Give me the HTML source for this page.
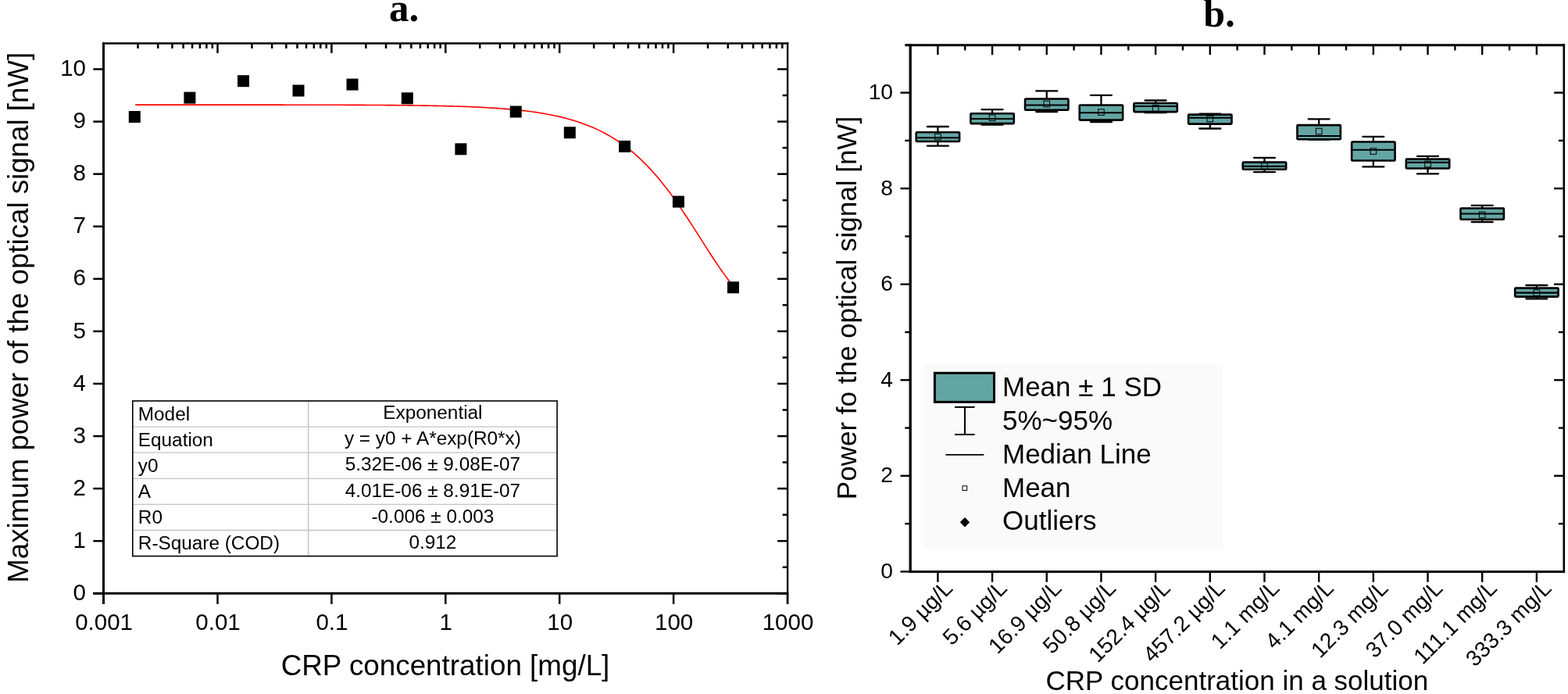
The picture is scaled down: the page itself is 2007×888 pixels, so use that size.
<!DOCTYPE html>
<html><head><meta charset="utf-8"><title>CRP figure</title>
<style>
html,body{margin:0;padding:0;background:#fff;}
svg{display:block;}
</style></head>
<body>
<svg width="2007" height="888" viewBox="0 0 2007 888" font-family='"Liberation Sans", Arial, sans-serif' fill="#000">
<g id="plotA">
<line x1="132.5" y1="54.3" x2="132.5" y2="773" stroke="#000" stroke-width="3"/>
<line x1="119.3" y1="759.3" x2="1009.3000000000001" y2="759.3" stroke="#000" stroke-width="3"/>
<line x1="131.0" y1="55.5" x2="1009.3000000000001" y2="55.5" stroke="#000" stroke-width="2.5"/>
<line x1="1008.1" y1="54.3" x2="1008.1" y2="773" stroke="#000" stroke-width="2.4"/>
<line x1="119.3" y1="759.30" x2="132.5" y2="759.30" stroke="#000" stroke-width="2.5"/>
<line x1="995.1" y1="759.30" x2="1008.1" y2="759.30" stroke="#000" stroke-width="2.5"/>
<line x1="1001.6" y1="725.76" x2="1008.1" y2="725.76" stroke="#000" stroke-width="2.5"/>
<text x="110" y="767.90" text-anchor="end" font-size="29.5">0</text>
<line x1="119.3" y1="692.22" x2="132.5" y2="692.22" stroke="#000" stroke-width="2.5"/>
<line x1="995.1" y1="692.22" x2="1008.1" y2="692.22" stroke="#000" stroke-width="2.5"/>
<line x1="1001.6" y1="658.68" x2="1008.1" y2="658.68" stroke="#000" stroke-width="2.5"/>
<text x="110" y="700.82" text-anchor="end" font-size="29.5">1</text>
<line x1="119.3" y1="625.14" x2="132.5" y2="625.14" stroke="#000" stroke-width="2.5"/>
<line x1="995.1" y1="625.14" x2="1008.1" y2="625.14" stroke="#000" stroke-width="2.5"/>
<line x1="1001.6" y1="591.60" x2="1008.1" y2="591.60" stroke="#000" stroke-width="2.5"/>
<text x="110" y="633.74" text-anchor="end" font-size="29.5">2</text>
<line x1="119.3" y1="558.06" x2="132.5" y2="558.06" stroke="#000" stroke-width="2.5"/>
<line x1="995.1" y1="558.06" x2="1008.1" y2="558.06" stroke="#000" stroke-width="2.5"/>
<line x1="1001.6" y1="524.52" x2="1008.1" y2="524.52" stroke="#000" stroke-width="2.5"/>
<text x="110" y="566.66" text-anchor="end" font-size="29.5">3</text>
<line x1="119.3" y1="490.98" x2="132.5" y2="490.98" stroke="#000" stroke-width="2.5"/>
<line x1="995.1" y1="490.98" x2="1008.1" y2="490.98" stroke="#000" stroke-width="2.5"/>
<line x1="1001.6" y1="457.44" x2="1008.1" y2="457.44" stroke="#000" stroke-width="2.5"/>
<text x="110" y="499.58" text-anchor="end" font-size="29.5">4</text>
<line x1="119.3" y1="423.90" x2="132.5" y2="423.90" stroke="#000" stroke-width="2.5"/>
<line x1="995.1" y1="423.90" x2="1008.1" y2="423.90" stroke="#000" stroke-width="2.5"/>
<line x1="1001.6" y1="390.36" x2="1008.1" y2="390.36" stroke="#000" stroke-width="2.5"/>
<text x="110" y="432.50" text-anchor="end" font-size="29.5">5</text>
<line x1="119.3" y1="356.82" x2="132.5" y2="356.82" stroke="#000" stroke-width="2.5"/>
<line x1="995.1" y1="356.82" x2="1008.1" y2="356.82" stroke="#000" stroke-width="2.5"/>
<line x1="1001.6" y1="323.28" x2="1008.1" y2="323.28" stroke="#000" stroke-width="2.5"/>
<text x="110" y="365.42" text-anchor="end" font-size="29.5">6</text>
<line x1="119.3" y1="289.74" x2="132.5" y2="289.74" stroke="#000" stroke-width="2.5"/>
<line x1="995.1" y1="289.74" x2="1008.1" y2="289.74" stroke="#000" stroke-width="2.5"/>
<line x1="1001.6" y1="256.20" x2="1008.1" y2="256.20" stroke="#000" stroke-width="2.5"/>
<text x="110" y="298.34" text-anchor="end" font-size="29.5">7</text>
<line x1="119.3" y1="222.66" x2="132.5" y2="222.66" stroke="#000" stroke-width="2.5"/>
<line x1="995.1" y1="222.66" x2="1008.1" y2="222.66" stroke="#000" stroke-width="2.5"/>
<line x1="1001.6" y1="189.12" x2="1008.1" y2="189.12" stroke="#000" stroke-width="2.5"/>
<text x="110" y="231.26" text-anchor="end" font-size="29.5">8</text>
<line x1="119.3" y1="155.58" x2="132.5" y2="155.58" stroke="#000" stroke-width="2.5"/>
<line x1="995.1" y1="155.58" x2="1008.1" y2="155.58" stroke="#000" stroke-width="2.5"/>
<line x1="1001.6" y1="122.04" x2="1008.1" y2="122.04" stroke="#000" stroke-width="2.5"/>
<text x="110" y="164.18" text-anchor="end" font-size="29.5">9</text>
<line x1="119.3" y1="88.50" x2="132.5" y2="88.50" stroke="#000" stroke-width="2.5"/>
<line x1="995.1" y1="88.50" x2="1008.1" y2="88.50" stroke="#000" stroke-width="2.5"/>
<text x="110" y="97.10" text-anchor="end" font-size="29.5">10</text>
<line x1="132.60" y1="759.3" x2="132.60" y2="773" stroke="#000" stroke-width="2.5"/>
<text x="133.10" y="805.8" text-anchor="middle" font-size="29.5">0.001</text>
<line x1="176.52" y1="55.5" x2="176.52" y2="62.0" stroke="#000" stroke-width="2.5"/>
<line x1="202.21" y1="55.5" x2="202.21" y2="62.0" stroke="#000" stroke-width="2.5"/>
<line x1="220.44" y1="55.5" x2="220.44" y2="62.0" stroke="#000" stroke-width="2.5"/>
<line x1="234.58" y1="55.5" x2="234.58" y2="62.0" stroke="#000" stroke-width="2.5"/>
<line x1="246.13" y1="55.5" x2="246.13" y2="62.0" stroke="#000" stroke-width="2.5"/>
<line x1="255.90" y1="55.5" x2="255.90" y2="62.0" stroke="#000" stroke-width="2.5"/>
<line x1="264.36" y1="55.5" x2="264.36" y2="62.0" stroke="#000" stroke-width="2.5"/>
<line x1="271.82" y1="55.5" x2="271.82" y2="62.0" stroke="#000" stroke-width="2.5"/>
<line x1="278.50" y1="759.3" x2="278.50" y2="773" stroke="#000" stroke-width="2.5"/>
<line x1="278.50" y1="55.5" x2="278.50" y2="68.0" stroke="#000" stroke-width="2.5"/>
<text x="279.00" y="805.8" text-anchor="middle" font-size="29.5">0.01</text>
<line x1="322.42" y1="55.5" x2="322.42" y2="62.0" stroke="#000" stroke-width="2.5"/>
<line x1="348.11" y1="55.5" x2="348.11" y2="62.0" stroke="#000" stroke-width="2.5"/>
<line x1="366.34" y1="55.5" x2="366.34" y2="62.0" stroke="#000" stroke-width="2.5"/>
<line x1="380.48" y1="55.5" x2="380.48" y2="62.0" stroke="#000" stroke-width="2.5"/>
<line x1="392.03" y1="55.5" x2="392.03" y2="62.0" stroke="#000" stroke-width="2.5"/>
<line x1="401.80" y1="55.5" x2="401.80" y2="62.0" stroke="#000" stroke-width="2.5"/>
<line x1="410.26" y1="55.5" x2="410.26" y2="62.0" stroke="#000" stroke-width="2.5"/>
<line x1="417.72" y1="55.5" x2="417.72" y2="62.0" stroke="#000" stroke-width="2.5"/>
<line x1="424.40" y1="759.3" x2="424.40" y2="773" stroke="#000" stroke-width="2.5"/>
<line x1="424.40" y1="55.5" x2="424.40" y2="68.0" stroke="#000" stroke-width="2.5"/>
<text x="424.90" y="805.8" text-anchor="middle" font-size="29.5">0.1</text>
<line x1="468.32" y1="55.5" x2="468.32" y2="62.0" stroke="#000" stroke-width="2.5"/>
<line x1="494.01" y1="55.5" x2="494.01" y2="62.0" stroke="#000" stroke-width="2.5"/>
<line x1="512.24" y1="55.5" x2="512.24" y2="62.0" stroke="#000" stroke-width="2.5"/>
<line x1="526.38" y1="55.5" x2="526.38" y2="62.0" stroke="#000" stroke-width="2.5"/>
<line x1="537.93" y1="55.5" x2="537.93" y2="62.0" stroke="#000" stroke-width="2.5"/>
<line x1="547.70" y1="55.5" x2="547.70" y2="62.0" stroke="#000" stroke-width="2.5"/>
<line x1="556.16" y1="55.5" x2="556.16" y2="62.0" stroke="#000" stroke-width="2.5"/>
<line x1="563.62" y1="55.5" x2="563.62" y2="62.0" stroke="#000" stroke-width="2.5"/>
<line x1="570.30" y1="759.3" x2="570.30" y2="773" stroke="#000" stroke-width="2.5"/>
<line x1="570.30" y1="55.5" x2="570.30" y2="68.0" stroke="#000" stroke-width="2.5"/>
<text x="570.80" y="805.8" text-anchor="middle" font-size="29.5">1</text>
<line x1="614.22" y1="55.5" x2="614.22" y2="62.0" stroke="#000" stroke-width="2.5"/>
<line x1="639.91" y1="55.5" x2="639.91" y2="62.0" stroke="#000" stroke-width="2.5"/>
<line x1="658.14" y1="55.5" x2="658.14" y2="62.0" stroke="#000" stroke-width="2.5"/>
<line x1="672.28" y1="55.5" x2="672.28" y2="62.0" stroke="#000" stroke-width="2.5"/>
<line x1="683.83" y1="55.5" x2="683.83" y2="62.0" stroke="#000" stroke-width="2.5"/>
<line x1="693.60" y1="55.5" x2="693.60" y2="62.0" stroke="#000" stroke-width="2.5"/>
<line x1="702.06" y1="55.5" x2="702.06" y2="62.0" stroke="#000" stroke-width="2.5"/>
<line x1="709.52" y1="55.5" x2="709.52" y2="62.0" stroke="#000" stroke-width="2.5"/>
<line x1="716.20" y1="759.3" x2="716.20" y2="773" stroke="#000" stroke-width="2.5"/>
<line x1="716.20" y1="55.5" x2="716.20" y2="68.0" stroke="#000" stroke-width="2.5"/>
<text x="716.70" y="805.8" text-anchor="middle" font-size="29.5">10</text>
<line x1="760.12" y1="55.5" x2="760.12" y2="62.0" stroke="#000" stroke-width="2.5"/>
<line x1="785.81" y1="55.5" x2="785.81" y2="62.0" stroke="#000" stroke-width="2.5"/>
<line x1="804.04" y1="55.5" x2="804.04" y2="62.0" stroke="#000" stroke-width="2.5"/>
<line x1="818.18" y1="55.5" x2="818.18" y2="62.0" stroke="#000" stroke-width="2.5"/>
<line x1="829.73" y1="55.5" x2="829.73" y2="62.0" stroke="#000" stroke-width="2.5"/>
<line x1="839.50" y1="55.5" x2="839.50" y2="62.0" stroke="#000" stroke-width="2.5"/>
<line x1="847.96" y1="55.5" x2="847.96" y2="62.0" stroke="#000" stroke-width="2.5"/>
<line x1="855.42" y1="55.5" x2="855.42" y2="62.0" stroke="#000" stroke-width="2.5"/>
<line x1="862.10" y1="759.3" x2="862.10" y2="773" stroke="#000" stroke-width="2.5"/>
<line x1="862.10" y1="55.5" x2="862.10" y2="68.0" stroke="#000" stroke-width="2.5"/>
<text x="862.60" y="805.8" text-anchor="middle" font-size="29.5">100</text>
<line x1="906.02" y1="55.5" x2="906.02" y2="62.0" stroke="#000" stroke-width="2.5"/>
<line x1="931.71" y1="55.5" x2="931.71" y2="62.0" stroke="#000" stroke-width="2.5"/>
<line x1="949.94" y1="55.5" x2="949.94" y2="62.0" stroke="#000" stroke-width="2.5"/>
<line x1="964.08" y1="55.5" x2="964.08" y2="62.0" stroke="#000" stroke-width="2.5"/>
<line x1="975.63" y1="55.5" x2="975.63" y2="62.0" stroke="#000" stroke-width="2.5"/>
<line x1="985.40" y1="55.5" x2="985.40" y2="62.0" stroke="#000" stroke-width="2.5"/>
<line x1="993.86" y1="55.5" x2="993.86" y2="62.0" stroke="#000" stroke-width="2.5"/>
<line x1="1001.32" y1="55.5" x2="1001.32" y2="62.0" stroke="#000" stroke-width="2.5"/>
<line x1="1008.00" y1="759.3" x2="1008.00" y2="773" stroke="#000" stroke-width="2.5"/>
<text x="1008.50" y="805.8" text-anchor="middle" font-size="29.5">1000</text>
<text x="570" y="863.5" text-anchor="middle" font-size="36.8">CRP concentration [mg/L]</text>
<text transform="translate(36.3,406.3) rotate(-90)" text-anchor="middle" font-size="36.7">Maximum power of the optical signal [nW]</text>
<polyline points="173.27,134.12 175.82,134.12 178.37,134.12 180.92,134.12 183.47,134.12 186.02,134.12 188.57,134.12 191.12,134.12 193.67,134.12 196.22,134.12 198.77,134.12 201.32,134.12 203.87,134.12 206.42,134.12 208.98,134.12 211.53,134.12 214.08,134.12 216.63,134.12 219.18,134.12 221.73,134.12 224.28,134.12 226.83,134.12 229.38,134.12 231.93,134.12 234.48,134.12 237.03,134.12 239.58,134.12 242.13,134.12 244.68,134.12 247.23,134.12 249.78,134.12 252.33,134.12 254.88,134.13 257.43,134.13 259.98,134.13 262.53,134.13 265.08,134.13 267.63,134.13 270.18,134.13 272.73,134.13 275.29,134.13 277.84,134.13 280.39,134.13 282.94,134.13 285.49,134.13 288.04,134.13 290.59,134.13 293.14,134.13 295.69,134.13 298.24,134.14 300.79,134.14 303.34,134.14 305.89,134.14 308.44,134.14 310.99,134.14 313.54,134.14 316.09,134.14 318.64,134.14 321.19,134.15 323.74,134.15 326.29,134.15 328.84,134.15 331.39,134.15 333.94,134.15 336.49,134.15 339.04,134.16 341.59,134.16 344.15,134.16 346.70,134.16 349.25,134.16 351.80,134.16 354.35,134.17 356.90,134.17 359.45,134.17 362.00,134.17 364.55,134.18 367.10,134.18 369.65,134.18 372.20,134.18 374.75,134.19 377.30,134.19 379.85,134.19 382.40,134.20 384.95,134.20 387.50,134.20 390.05,134.21 392.60,134.21 395.15,134.21 397.70,134.22 400.25,134.22 402.80,134.23 405.35,134.23 407.90,134.24 410.45,134.24 413.01,134.25 415.56,134.25 418.11,134.26 420.66,134.26 423.21,134.27 425.76,134.27 428.31,134.28 430.86,134.29 433.41,134.29 435.96,134.30 438.51,134.31 441.06,134.32 443.61,134.33 446.16,134.34 448.71,134.34 451.26,134.35 453.81,134.36 456.36,134.37 458.91,134.38 461.46,134.40 464.01,134.41 466.56,134.42 469.11,134.43 471.66,134.44 474.21,134.46 476.76,134.47 479.31,134.49 481.87,134.50 484.42,134.52 486.97,134.53 489.52,134.55 492.07,134.57 494.62,134.59 497.17,134.61 499.72,134.63 502.27,134.65 504.82,134.67 507.37,134.69 509.92,134.72 512.47,134.74 515.02,134.77 517.57,134.79 520.12,134.82 522.67,134.85 525.22,134.88 527.77,134.91 530.32,134.95 532.87,134.98 535.42,135.02 537.97,135.05 540.52,135.09 543.07,135.13 545.62,135.17 548.17,135.22 550.73,135.26 553.28,135.31 555.83,135.36 558.38,135.41 560.93,135.46 563.48,135.52 566.03,135.57 568.58,135.63 571.13,135.70 573.68,135.76 576.23,135.83 578.78,135.90 581.33,135.97 583.88,136.05 586.43,136.13 588.98,136.21 591.53,136.29 594.08,136.38 596.63,136.48 599.18,136.57 601.73,136.67 604.28,136.78 606.83,136.89 609.38,137.00 611.93,137.12 614.48,137.24 617.03,137.37 619.59,137.50 622.14,137.64 624.69,137.78 627.24,137.93 629.79,138.09 632.34,138.25 634.89,138.42 637.44,138.59 639.99,138.78 642.54,138.97 645.09,139.16 647.64,139.37 650.19,139.58 652.74,139.81 655.29,140.04 657.84,140.28 660.39,140.53 662.94,140.79 665.49,141.06 668.04,141.34 670.59,141.63 673.14,141.94 675.69,142.25 678.24,142.58 680.79,142.92 683.34,143.28 685.89,143.65 688.45,144.03 691.00,144.43 693.55,144.85 696.10,145.28 698.65,145.73 701.20,146.19 703.75,146.68 706.30,147.18 708.85,147.70 711.40,148.25 713.95,148.81 716.50,149.40 719.05,150.01 721.60,150.64 724.15,151.30 726.70,151.98 729.25,152.69 731.80,153.42 734.35,154.18 736.90,154.98 739.45,155.80 742.00,156.65 744.55,157.54 747.10,158.45 749.65,159.40 752.20,160.39 754.75,161.41 757.31,162.47 759.86,163.57 762.41,164.71 764.96,165.89 767.51,167.12 770.06,168.38 772.61,169.69 775.16,171.05 777.71,172.45 780.26,173.91 782.81,175.41 785.36,176.96 787.91,178.57 790.46,180.23 793.01,181.95 795.56,183.72 798.11,185.55 800.66,187.44 803.21,189.39 805.76,191.41 808.31,193.48 810.86,195.62 813.41,197.82 815.96,200.09 818.51,202.43 821.06,204.83 823.61,207.31 826.17,209.85 828.72,212.46 831.27,215.14 833.82,217.89 836.37,220.72 838.92,223.61 841.47,226.57 844.02,229.61 846.57,232.71 849.12,235.89 851.67,239.13 854.22,242.44 856.77,245.81 859.32,249.25 861.87,252.76 864.42,256.32 866.97,259.94 869.52,263.62 872.07,267.35 874.62,271.12 877.17,274.95 879.72,278.81 882.27,282.71 884.82,286.65 887.37,290.61 889.92,294.59 892.47,298.59 895.03,302.60 897.58,306.62 900.13,310.63 902.68,314.64 905.23,318.63 907.78,322.60 910.33,326.54 912.88,330.44 915.43,334.30 917.98,338.10 920.53,341.85 923.08,345.52 925.63,349.12 928.18,352.64 930.73,356.08 933.28,359.41 935.83,362.64 938.38,365.77" fill="none" stroke="#ff0000" stroke-width="1.6"/>
<rect x="164.80" y="142.00" width="15" height="15" fill="#000"/>
<rect x="235.40" y="117.60" width="15" height="15" fill="#000"/>
<rect x="304.00" y="96.20" width="15" height="15" fill="#000"/>
<rect x="374.50" y="108.50" width="15" height="15" fill="#000"/>
<rect x="443.50" y="100.60" width="15" height="15" fill="#000"/>
<rect x="513.80" y="118.30" width="15" height="15" fill="#000"/>
<rect x="582.40" y="183.30" width="15" height="15" fill="#000"/>
<rect x="652.70" y="135.50" width="15" height="15" fill="#000"/>
<rect x="721.80" y="162.20" width="15" height="15" fill="#000"/>
<rect x="792.10" y="179.90" width="15" height="15" fill="#000"/>
<rect x="860.90" y="250.60" width="15" height="15" fill="#000"/>
<rect x="931.00" y="360.30" width="15" height="15" fill="#000"/>
<rect x="169.8" y="513.0" width="543.3" height="198.60000000000002" fill="#fff" stroke="none"/>
<line x1="169.8" y1="546.10" x2="713.1" y2="546.10" stroke="#c4c4c4" stroke-width="1.3"/>
<line x1="169.8" y1="579.20" x2="713.1" y2="579.20" stroke="#c4c4c4" stroke-width="1.3"/>
<line x1="169.8" y1="612.30" x2="713.1" y2="612.30" stroke="#c4c4c4" stroke-width="1.3"/>
<line x1="169.8" y1="645.40" x2="713.1" y2="645.40" stroke="#c4c4c4" stroke-width="1.3"/>
<line x1="169.8" y1="678.50" x2="713.1" y2="678.50" stroke="#c4c4c4" stroke-width="1.3"/>
<line x1="394.7" y1="513.0" x2="394.7" y2="711.6" stroke="#c4c4c4" stroke-width="1.5"/>
<rect x="169.8" y="513.0" width="543.3" height="198.60000000000002" fill="none" stroke="#000" stroke-width="1.6"/>
<text x="176.8" y="537.80" font-size="24.35">Model</text>
<text x="553.90" y="536.20" text-anchor="middle" font-size="24.35">Exponential</text>
<text x="176.8" y="570.90" font-size="24.35">Equation</text>
<text x="553.90" y="569.30" text-anchor="middle" font-size="24.35">y = y0 + A*exp(R0*x)</text>
<text x="176.8" y="604.00" font-size="24.35">y0</text>
<text x="553.90" y="602.40" text-anchor="middle" font-size="24.35">5.32E-06 ± 9.08E-07</text>
<text x="176.8" y="637.10" font-size="24.35">A</text>
<text x="553.90" y="635.50" text-anchor="middle" font-size="24.35">4.01E-06 ± 8.91E-07</text>
<text x="176.8" y="670.20" font-size="24.35">R0</text>
<text x="553.90" y="668.60" text-anchor="middle" font-size="24.35">-0.006 ± 0.003</text>
<text x="176.8" y="703.30" font-size="24.35">R-Square (COD)</text>
<text x="553.90" y="701.70" text-anchor="middle" font-size="24.35">0.912</text>
</g>
<g id="plotB">
<rect x="1183" y="466" width="382" height="236" fill="#fafafa"/>
<line x1="1165.2" y1="56.3" x2="1165.2" y2="733.0" stroke="#000" stroke-width="3.3"/>
<line x1="1163.6000000000001" y1="731.5" x2="2003.1" y2="731.5" stroke="#000" stroke-width="3"/>
<line x1="1158.3" y1="57.8" x2="2003.1" y2="57.8" stroke="#000" stroke-width="3"/>
<line x1="2001.8" y1="56.3" x2="2001.8" y2="733.0" stroke="#000" stroke-width="2.6"/>
<line x1="1152.50" y1="731.40" x2="1165.2" y2="731.40" stroke="#000" stroke-width="2.4"/>
<line x1="1989.10" y1="731.40" x2="2001.8" y2="731.40" stroke="#000" stroke-width="2.4"/>
<text x="1143" y="739.80" text-anchor="end" font-size="28.2">0</text>
<line x1="1158.30" y1="670.12" x2="1165.2" y2="670.12" stroke="#000" stroke-width="2.4"/>
<line x1="1994.90" y1="670.12" x2="2001.8" y2="670.12" stroke="#000" stroke-width="2.4"/>
<line x1="1152.50" y1="608.84" x2="1165.2" y2="608.84" stroke="#000" stroke-width="2.4"/>
<line x1="1989.10" y1="608.84" x2="2001.8" y2="608.84" stroke="#000" stroke-width="2.4"/>
<text x="1143" y="617.24" text-anchor="end" font-size="28.2">2</text>
<line x1="1158.30" y1="547.56" x2="1165.2" y2="547.56" stroke="#000" stroke-width="2.4"/>
<line x1="1994.90" y1="547.56" x2="2001.8" y2="547.56" stroke="#000" stroke-width="2.4"/>
<line x1="1152.50" y1="486.28" x2="1165.2" y2="486.28" stroke="#000" stroke-width="2.4"/>
<line x1="1989.10" y1="486.28" x2="2001.8" y2="486.28" stroke="#000" stroke-width="2.4"/>
<text x="1143" y="494.68" text-anchor="end" font-size="28.2">4</text>
<line x1="1158.30" y1="425.00" x2="1165.2" y2="425.00" stroke="#000" stroke-width="2.4"/>
<line x1="1994.90" y1="425.00" x2="2001.8" y2="425.00" stroke="#000" stroke-width="2.4"/>
<line x1="1152.50" y1="363.72" x2="1165.2" y2="363.72" stroke="#000" stroke-width="2.4"/>
<line x1="1989.10" y1="363.72" x2="2001.8" y2="363.72" stroke="#000" stroke-width="2.4"/>
<text x="1143" y="372.12" text-anchor="end" font-size="28.2">6</text>
<line x1="1158.30" y1="302.44" x2="1165.2" y2="302.44" stroke="#000" stroke-width="2.4"/>
<line x1="1994.90" y1="302.44" x2="2001.8" y2="302.44" stroke="#000" stroke-width="2.4"/>
<line x1="1152.50" y1="241.16" x2="1165.2" y2="241.16" stroke="#000" stroke-width="2.4"/>
<line x1="1989.10" y1="241.16" x2="2001.8" y2="241.16" stroke="#000" stroke-width="2.4"/>
<text x="1143" y="249.56" text-anchor="end" font-size="28.2">8</text>
<line x1="1158.30" y1="179.88" x2="1165.2" y2="179.88" stroke="#000" stroke-width="2.4"/>
<line x1="1994.90" y1="179.88" x2="2001.8" y2="179.88" stroke="#000" stroke-width="2.4"/>
<line x1="1152.50" y1="118.60" x2="1165.2" y2="118.60" stroke="#000" stroke-width="2.4"/>
<line x1="1989.10" y1="118.60" x2="2001.8" y2="118.60" stroke="#000" stroke-width="2.4"/>
<text x="1143" y="127.00" text-anchor="end" font-size="28.2">10</text>
<line x1="1200.40" y1="731.5" x2="1200.40" y2="744.8" stroke="#000" stroke-width="2.4"/>
<line x1="1200.40" y1="57.8" x2="1200.40" y2="70.2" stroke="#000" stroke-width="2.4"/>
<line x1="1235.24" y1="57.8" x2="1235.24" y2="64.5" stroke="#000" stroke-width="2.4"/>
<line x1="1270.08" y1="731.5" x2="1270.08" y2="744.8" stroke="#000" stroke-width="2.4"/>
<line x1="1270.08" y1="57.8" x2="1270.08" y2="70.2" stroke="#000" stroke-width="2.4"/>
<line x1="1304.92" y1="57.8" x2="1304.92" y2="64.5" stroke="#000" stroke-width="2.4"/>
<line x1="1339.76" y1="731.5" x2="1339.76" y2="744.8" stroke="#000" stroke-width="2.4"/>
<line x1="1339.76" y1="57.8" x2="1339.76" y2="70.2" stroke="#000" stroke-width="2.4"/>
<line x1="1374.60" y1="57.8" x2="1374.60" y2="64.5" stroke="#000" stroke-width="2.4"/>
<line x1="1409.44" y1="731.5" x2="1409.44" y2="744.8" stroke="#000" stroke-width="2.4"/>
<line x1="1409.44" y1="57.8" x2="1409.44" y2="70.2" stroke="#000" stroke-width="2.4"/>
<line x1="1444.28" y1="57.8" x2="1444.28" y2="64.5" stroke="#000" stroke-width="2.4"/>
<line x1="1479.12" y1="731.5" x2="1479.12" y2="744.8" stroke="#000" stroke-width="2.4"/>
<line x1="1479.12" y1="57.8" x2="1479.12" y2="70.2" stroke="#000" stroke-width="2.4"/>
<line x1="1513.96" y1="57.8" x2="1513.96" y2="64.5" stroke="#000" stroke-width="2.4"/>
<line x1="1548.80" y1="731.5" x2="1548.80" y2="744.8" stroke="#000" stroke-width="2.4"/>
<line x1="1548.80" y1="57.8" x2="1548.80" y2="70.2" stroke="#000" stroke-width="2.4"/>
<line x1="1583.64" y1="57.8" x2="1583.64" y2="64.5" stroke="#000" stroke-width="2.4"/>
<line x1="1618.48" y1="731.5" x2="1618.48" y2="744.8" stroke="#000" stroke-width="2.4"/>
<line x1="1618.48" y1="57.8" x2="1618.48" y2="70.2" stroke="#000" stroke-width="2.4"/>
<line x1="1653.32" y1="57.8" x2="1653.32" y2="64.5" stroke="#000" stroke-width="2.4"/>
<line x1="1688.16" y1="731.5" x2="1688.16" y2="744.8" stroke="#000" stroke-width="2.4"/>
<line x1="1688.16" y1="57.8" x2="1688.16" y2="70.2" stroke="#000" stroke-width="2.4"/>
<line x1="1723.00" y1="57.8" x2="1723.00" y2="64.5" stroke="#000" stroke-width="2.4"/>
<line x1="1757.84" y1="731.5" x2="1757.84" y2="744.8" stroke="#000" stroke-width="2.4"/>
<line x1="1757.84" y1="57.8" x2="1757.84" y2="70.2" stroke="#000" stroke-width="2.4"/>
<line x1="1792.68" y1="57.8" x2="1792.68" y2="64.5" stroke="#000" stroke-width="2.4"/>
<line x1="1827.52" y1="731.5" x2="1827.52" y2="744.8" stroke="#000" stroke-width="2.4"/>
<line x1="1827.52" y1="57.8" x2="1827.52" y2="70.2" stroke="#000" stroke-width="2.4"/>
<line x1="1862.36" y1="57.8" x2="1862.36" y2="64.5" stroke="#000" stroke-width="2.4"/>
<line x1="1897.20" y1="731.5" x2="1897.20" y2="744.8" stroke="#000" stroke-width="2.4"/>
<line x1="1897.20" y1="57.8" x2="1897.20" y2="70.2" stroke="#000" stroke-width="2.4"/>
<line x1="1932.04" y1="57.8" x2="1932.04" y2="64.5" stroke="#000" stroke-width="2.4"/>
<line x1="1966.88" y1="731.5" x2="1966.88" y2="744.8" stroke="#000" stroke-width="2.4"/>
<line x1="1966.88" y1="57.8" x2="1966.88" y2="70.2" stroke="#000" stroke-width="2.4"/>
<text transform="translate(1220.90,754.50) rotate(-45)" text-anchor="end" font-size="28.2">1.9 µg/L</text>
<text transform="translate(1290.58,754.50) rotate(-45)" text-anchor="end" font-size="28.2">5.6 µg/L</text>
<text transform="translate(1360.26,754.50) rotate(-45)" text-anchor="end" font-size="28.2">16.9 µg/L</text>
<text transform="translate(1429.94,754.50) rotate(-45)" text-anchor="end" font-size="28.2">50.8 µg/L</text>
<text transform="translate(1499.62,754.50) rotate(-45)" text-anchor="end" font-size="28.2">152.4 µg/L</text>
<text transform="translate(1569.30,754.50) rotate(-45)" text-anchor="end" font-size="28.2">457.2 µg/L</text>
<text transform="translate(1638.98,754.50) rotate(-45)" text-anchor="end" font-size="28.2">1.1 mg/L</text>
<text transform="translate(1708.66,754.50) rotate(-45)" text-anchor="end" font-size="28.2">4.1 mg/L</text>
<text transform="translate(1778.34,754.50) rotate(-45)" text-anchor="end" font-size="28.2">12.3 mg/L</text>
<text transform="translate(1848.02,754.50) rotate(-45)" text-anchor="end" font-size="28.2">37.0 mg/L</text>
<text transform="translate(1917.70,754.50) rotate(-45)" text-anchor="end" font-size="28.2">111.1 mg/L</text>
<text transform="translate(1987.38,754.50) rotate(-45)" text-anchor="end" font-size="28.2">333.3 mg/L</text>
<text x="1583.4" y="882.7" text-anchor="middle" font-size="35">CRP concentration in a solution</text>
<text transform="translate(1096.2,394) rotate(-90)" text-anchor="middle" font-size="35">Power fo the optical signal [nW]</text>
<line x1="1200.40" y1="162.00" x2="1200.40" y2="169.20" stroke="#000" stroke-width="2.3"/>
<line x1="1200.40" y1="181.00" x2="1200.40" y2="186.60" stroke="#000" stroke-width="2.3"/>
<line x1="1186.90" y1="162.00" x2="1213.90" y2="162.00" stroke="#000" stroke-width="2.3" stroke-linecap="round"/>
<line x1="1186.90" y1="186.60" x2="1213.90" y2="186.60" stroke="#000" stroke-width="2.3" stroke-linecap="round"/>
<rect x="1172.70" y="169.20" width="55.40" height="11.80" fill="#63a5a3" stroke="#000" stroke-width="2.6" rx="1"/>
<line x1="1172.70" y1="176.30" x2="1228.10" y2="176.30" stroke="#000" stroke-width="2.1"/>
<rect x="1196.60" y="171.20" width="7.6" height="7.6" fill="none" stroke="#000" stroke-width="1"/>
<line x1="1270.08" y1="140.10" x2="1270.08" y2="145.30" stroke="#000" stroke-width="2.3"/>
<line x1="1270.08" y1="158.10" x2="1270.08" y2="159.70" stroke="#000" stroke-width="2.3"/>
<line x1="1256.58" y1="140.10" x2="1283.58" y2="140.10" stroke="#000" stroke-width="2.3" stroke-linecap="round"/>
<line x1="1256.58" y1="159.70" x2="1283.58" y2="159.70" stroke="#000" stroke-width="2.3" stroke-linecap="round"/>
<rect x="1242.38" y="145.30" width="55.40" height="12.80" fill="#63a5a3" stroke="#000" stroke-width="2.6" rx="1"/>
<line x1="1242.38" y1="152.00" x2="1297.78" y2="152.00" stroke="#000" stroke-width="2.1"/>
<rect x="1266.28" y="147.00" width="7.6" height="7.6" fill="none" stroke="#000" stroke-width="1"/>
<line x1="1339.76" y1="116.40" x2="1339.76" y2="126.50" stroke="#000" stroke-width="2.3"/>
<line x1="1339.76" y1="140.70" x2="1339.76" y2="143.10" stroke="#000" stroke-width="2.3"/>
<line x1="1326.26" y1="116.40" x2="1353.26" y2="116.40" stroke="#000" stroke-width="2.3" stroke-linecap="round"/>
<line x1="1326.26" y1="143.10" x2="1353.26" y2="143.10" stroke="#000" stroke-width="2.3" stroke-linecap="round"/>
<rect x="1312.06" y="126.50" width="55.40" height="14.20" fill="#63a5a3" stroke="#000" stroke-width="2.6" rx="1"/>
<line x1="1312.06" y1="134.50" x2="1367.46" y2="134.50" stroke="#000" stroke-width="2.1"/>
<rect x="1335.96" y="129.20" width="7.6" height="7.6" fill="none" stroke="#000" stroke-width="1"/>
<line x1="1409.44" y1="121.80" x2="1409.44" y2="134.50" stroke="#000" stroke-width="2.3"/>
<line x1="1409.44" y1="153.60" x2="1409.44" y2="156.00" stroke="#000" stroke-width="2.3"/>
<line x1="1395.94" y1="121.80" x2="1422.94" y2="121.80" stroke="#000" stroke-width="2.3" stroke-linecap="round"/>
<line x1="1395.94" y1="156.00" x2="1422.94" y2="156.00" stroke="#000" stroke-width="2.3" stroke-linecap="round"/>
<rect x="1381.74" y="134.50" width="55.40" height="19.10" fill="#63a5a3" stroke="#000" stroke-width="2.6" rx="1"/>
<line x1="1381.74" y1="144.20" x2="1437.14" y2="144.20" stroke="#000" stroke-width="2.1"/>
<rect x="1405.64" y="139.80" width="7.6" height="7.6" fill="none" stroke="#000" stroke-width="1"/>
<line x1="1479.12" y1="128.50" x2="1479.12" y2="132.00" stroke="#000" stroke-width="2.3"/>
<line x1="1479.12" y1="143.10" x2="1479.12" y2="144.20" stroke="#000" stroke-width="2.3"/>
<line x1="1465.62" y1="128.50" x2="1492.62" y2="128.50" stroke="#000" stroke-width="2.3" stroke-linecap="round"/>
<line x1="1465.62" y1="144.20" x2="1492.62" y2="144.20" stroke="#000" stroke-width="2.3" stroke-linecap="round"/>
<rect x="1451.42" y="132.00" width="55.40" height="11.10" fill="#63a5a3" stroke="#000" stroke-width="2.6" rx="1"/>
<line x1="1451.42" y1="136.00" x2="1506.82" y2="136.00" stroke="#000" stroke-width="2.1"/>
<rect x="1475.32" y="134.70" width="7.6" height="7.6" fill="none" stroke="#000" stroke-width="1"/>
<line x1="1548.80" y1="145.60" x2="1548.80" y2="146.60" stroke="#000" stroke-width="2.3"/>
<line x1="1548.80" y1="158.60" x2="1548.80" y2="164.50" stroke="#000" stroke-width="2.3"/>
<line x1="1535.30" y1="145.60" x2="1562.30" y2="145.60" stroke="#000" stroke-width="2.3" stroke-linecap="round"/>
<line x1="1535.30" y1="164.50" x2="1562.30" y2="164.50" stroke="#000" stroke-width="2.3" stroke-linecap="round"/>
<rect x="1521.10" y="146.60" width="55.40" height="12.00" fill="#63a5a3" stroke="#000" stroke-width="2.6" rx="1"/>
<line x1="1521.10" y1="150.70" x2="1576.50" y2="150.70" stroke="#000" stroke-width="2.1"/>
<rect x="1545.00" y="148.20" width="7.6" height="7.6" fill="none" stroke="#000" stroke-width="1"/>
<line x1="1618.48" y1="201.80" x2="1618.48" y2="207.60" stroke="#000" stroke-width="2.3"/>
<line x1="1618.48" y1="216.80" x2="1618.48" y2="220.20" stroke="#000" stroke-width="2.3"/>
<line x1="1604.98" y1="201.80" x2="1631.98" y2="201.80" stroke="#000" stroke-width="2.3" stroke-linecap="round"/>
<line x1="1604.98" y1="220.20" x2="1631.98" y2="220.20" stroke="#000" stroke-width="2.3" stroke-linecap="round"/>
<rect x="1590.78" y="207.60" width="55.40" height="9.20" fill="#63a5a3" stroke="#000" stroke-width="2.6" rx="1"/>
<line x1="1590.78" y1="212.80" x2="1646.18" y2="212.80" stroke="#000" stroke-width="2.1"/>
<rect x="1614.68" y="208.70" width="7.6" height="7.6" fill="none" stroke="#000" stroke-width="1"/>
<line x1="1688.16" y1="152.30" x2="1688.16" y2="160.10" stroke="#000" stroke-width="2.3"/>
<line x1="1688.16" y1="178.30" x2="1688.16" y2="178.50" stroke="#000" stroke-width="2.3"/>
<line x1="1674.66" y1="152.30" x2="1701.66" y2="152.30" stroke="#000" stroke-width="2.3" stroke-linecap="round"/>
<line x1="1674.66" y1="178.50" x2="1701.66" y2="178.50" stroke="#000" stroke-width="2.3" stroke-linecap="round"/>
<rect x="1660.46" y="160.10" width="55.40" height="18.20" fill="#63a5a3" stroke="#000" stroke-width="2.6" rx="1"/>
<line x1="1660.46" y1="174.00" x2="1715.86" y2="174.00" stroke="#000" stroke-width="2.1"/>
<rect x="1684.36" y="164.20" width="7.6" height="7.6" fill="none" stroke="#000" stroke-width="1"/>
<line x1="1757.84" y1="174.80" x2="1757.84" y2="181.50" stroke="#000" stroke-width="2.3"/>
<line x1="1757.84" y1="205.50" x2="1757.84" y2="213.40" stroke="#000" stroke-width="2.3"/>
<line x1="1744.34" y1="174.80" x2="1771.34" y2="174.80" stroke="#000" stroke-width="2.3" stroke-linecap="round"/>
<line x1="1744.34" y1="213.40" x2="1771.34" y2="213.40" stroke="#000" stroke-width="2.3" stroke-linecap="round"/>
<rect x="1730.14" y="181.50" width="55.40" height="24.00" fill="#63a5a3" stroke="#000" stroke-width="2.6" rx="1"/>
<line x1="1730.14" y1="191.70" x2="1785.54" y2="191.70" stroke="#000" stroke-width="2.1"/>
<rect x="1754.04" y="189.80" width="7.6" height="7.6" fill="none" stroke="#000" stroke-width="1"/>
<line x1="1827.52" y1="199.80" x2="1827.52" y2="203.60" stroke="#000" stroke-width="2.3"/>
<line x1="1827.52" y1="215.50" x2="1827.52" y2="222.40" stroke="#000" stroke-width="2.3"/>
<line x1="1814.02" y1="199.80" x2="1841.02" y2="199.80" stroke="#000" stroke-width="2.3" stroke-linecap="round"/>
<line x1="1814.02" y1="222.40" x2="1841.02" y2="222.40" stroke="#000" stroke-width="2.3" stroke-linecap="round"/>
<rect x="1799.82" y="203.60" width="55.40" height="11.90" fill="#63a5a3" stroke="#000" stroke-width="2.6" rx="1"/>
<line x1="1799.82" y1="207.90" x2="1855.22" y2="207.90" stroke="#000" stroke-width="2.1"/>
<rect x="1823.72" y="206.20" width="7.6" height="7.6" fill="none" stroke="#000" stroke-width="1"/>
<line x1="1897.20" y1="262.90" x2="1897.20" y2="266.50" stroke="#000" stroke-width="2.3"/>
<line x1="1897.20" y1="280.70" x2="1897.20" y2="284.00" stroke="#000" stroke-width="2.3"/>
<line x1="1883.70" y1="262.90" x2="1910.70" y2="262.90" stroke="#000" stroke-width="2.3" stroke-linecap="round"/>
<line x1="1883.70" y1="284.00" x2="1910.70" y2="284.00" stroke="#000" stroke-width="2.3" stroke-linecap="round"/>
<rect x="1869.50" y="266.50" width="55.40" height="14.20" fill="#63a5a3" stroke="#000" stroke-width="2.6" rx="1"/>
<line x1="1869.50" y1="273.50" x2="1924.90" y2="273.50" stroke="#000" stroke-width="2.1"/>
<rect x="1893.40" y="271.20" width="7.6" height="7.6" fill="none" stroke="#000" stroke-width="1"/>
<line x1="1966.88" y1="365.00" x2="1966.88" y2="368.60" stroke="#000" stroke-width="2.3"/>
<line x1="1966.88" y1="379.60" x2="1966.88" y2="382.30" stroke="#000" stroke-width="2.3"/>
<line x1="1953.38" y1="365.00" x2="1980.38" y2="365.00" stroke="#000" stroke-width="2.3" stroke-linecap="round"/>
<line x1="1953.38" y1="382.30" x2="1980.38" y2="382.30" stroke="#000" stroke-width="2.3" stroke-linecap="round"/>
<rect x="1939.18" y="368.60" width="55.40" height="11.00" fill="#63a5a3" stroke="#000" stroke-width="2.6" rx="1"/>
<line x1="1939.18" y1="374.60" x2="1994.58" y2="374.60" stroke="#000" stroke-width="2.1"/>
<rect x="1963.08" y="370.80" width="7.6" height="7.6" fill="none" stroke="#000" stroke-width="1"/>
<rect x="1196.4" y="477.3" width="76.1" height="37.1" fill="#63a5a3" stroke="#000" stroke-width="3"/>
<line x1="1235" y1="520.9" x2="1235" y2="556" stroke="#000" stroke-width="2"/>
<line x1="1222.1" y1="520.9" x2="1247.6" y2="520.9" stroke="#000" stroke-width="2"/>
<line x1="1222.1" y1="556" x2="1247.6" y2="556" stroke="#000" stroke-width="2"/>
<line x1="1210.4" y1="581.8" x2="1259.3" y2="581.8" stroke="#000" stroke-width="1.8"/>
<rect x="1232" y="621.8" width="5.7" height="5.7" fill="none" stroke="#000" stroke-width="1"/>
<polygon points="1235,662 1241.2,668.2 1235,674.4 1228.8,668.2" fill="#000"/>
<text x="1283" y="507.2" font-size="35">Mean ± 1 SD</text>
<text x="1283" y="550.3" font-size="35">5%~95%</text>
<text x="1283" y="593" font-size="35">Median Line</text>
<text x="1283" y="636" font-size="35">Mean</text>
<text x="1283" y="678.4" font-size="35">Outliers</text>
</g>
<text x="517" y="27" text-anchor="middle" font-family='"Liberation Serif", "Times New Roman", serif' font-weight="bold" font-size="51">a.</text>
<text x="1560.5" y="34" text-anchor="middle" font-family='"Liberation Serif", "Times New Roman", serif' font-weight="bold" font-size="50">b.</text>
</svg>
</body></html>
